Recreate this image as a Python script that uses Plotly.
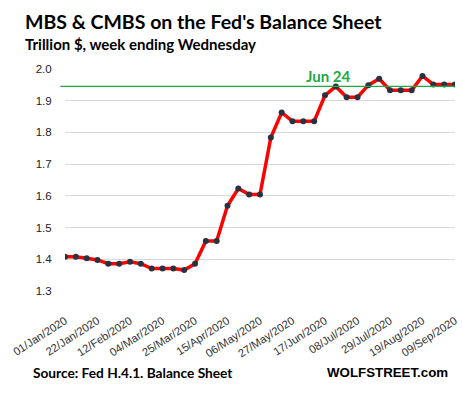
import plotly.graph_objects as go
import pandas as pd

dates = pd.date_range("2020-01-01", "2020-09-09", freq="7D")
values = [1.408, 1.408, 1.403, 1.398, 1.386, 1.386, 1.392, 1.386, 1.371, 1.371,
          1.371, 1.366, 1.386, 1.458, 1.458, 1.569, 1.623, 1.604, 1.604, 1.784,
          1.863, 1.835, 1.835, 1.835, 1.917, 1.945, 1.911, 1.911, 1.949, 1.969,
          1.933, 1.933, 1.933, 1.978, 1.951, 1.951, 1.951]
tick_dates = dates[::3]
y_ticks = [1.3, 1.4, 1.5, 1.6, 1.7, 1.8, 1.9, 2.0]
ref_date = pd.Timestamp("2020-06-24")
ref_value = values[list(dates).index(ref_date)]

title = "MBS & CMBS on the Fed's Balance Sheet"
subtitle = "Trillion $, week ending Wednesday"
source = "Source: Fed H.4.1. Balance Sheet"
brand = "WOLFSTREET.com"

fig = go.Figure()
fig.add_trace(go.Scatter(
    x=dates, y=values, mode="lines+markers",
    line=dict(color="#ff0000", width=3.5),
    marker=dict(color="#2a3240", size=6, symbol="circle"),
    hoverinfo="skip", showlegend=False,
))

fig.add_shape(type="line", xref="paper", yref="y", x0=-0.012, x1=1,
              y0=ref_value, y1=ref_value, line=dict(color="#1fa845", width=1.3))

fig.add_annotation(x=ref_date, y=ref_value, xref="x", yref="y", text="<b>Jun 24</b>",
                   showarrow=False, xshift=-8, yshift=10, yanchor="middle",
                   font=dict(family="Lato", size=15, color="#1fa845"))

fig.add_annotation(x=-0.108, y=1.216, xref="paper", yref="paper", text="<b>" + title + "</b>",
                   showarrow=False, xanchor="left", yanchor="middle",
                   font=dict(family="Lato", size=19.5, color="#000000"))
fig.add_annotation(x=-0.108, y=1.1126, xref="paper", yref="paper", text="<b>" + subtitle + "</b>",
                   showarrow=False, xanchor="left", yanchor="middle",
                   font=dict(family="Lato", size=15, color="#000000"))
fig.add_annotation(x=-0.087, y=-0.369, xref="paper", yref="paper", text="<b>" + source + "</b>",
                   showarrow=False, xanchor="left", yanchor="middle",
                   font=dict(family="Lato", size=13.7, color="#000000"))
fig.add_annotation(x=0.987, y=-0.369, xref="paper", yref="paper", text="<b>" + brand + "</b>",
                   showarrow=False, xanchor="right", yanchor="middle",
                   font=dict(family="Liberation Sans", size=13.3, color="#000000"))

fig.update_xaxes(
    range=[dates[0], dates[-1]], tickvals=tick_dates, tickformat="%d/%b/%Y",
    tickangle=-33, showgrid=False, zeroline=False, showline=False,
    ticks="outside", ticklen=18, tickcolor="rgba(0,0,0,0)",
    automargin=False,
    tickfont=dict(family="Liberation Sans", size=11.2, color="#333333"),
)
fig.update_yaxes(
    range=[1.3, 2.0], tickvals=y_ticks, tickformat=".1f",
    showgrid=True, gridcolor="#d9d9d9", gridwidth=1, zeroline=False, showline=False,
    ticks="outside", ticklen=10, tickcolor="rgba(0,0,0,0)", automargin=False,
    tickfont=dict(family="Liberation Sans", size=11.5, color="#222222"),
)
fig.update_layout(
    width=462, height=395, margin=dict(l=65, r=7, t=69, b=104),
    plot_bgcolor="white", paper_bgcolor="white",
)
fig.write_html("out.html", config={"displayModeBar": False},
               post_script="document.body.style.margin='0';document.body.style.padding='0';")
